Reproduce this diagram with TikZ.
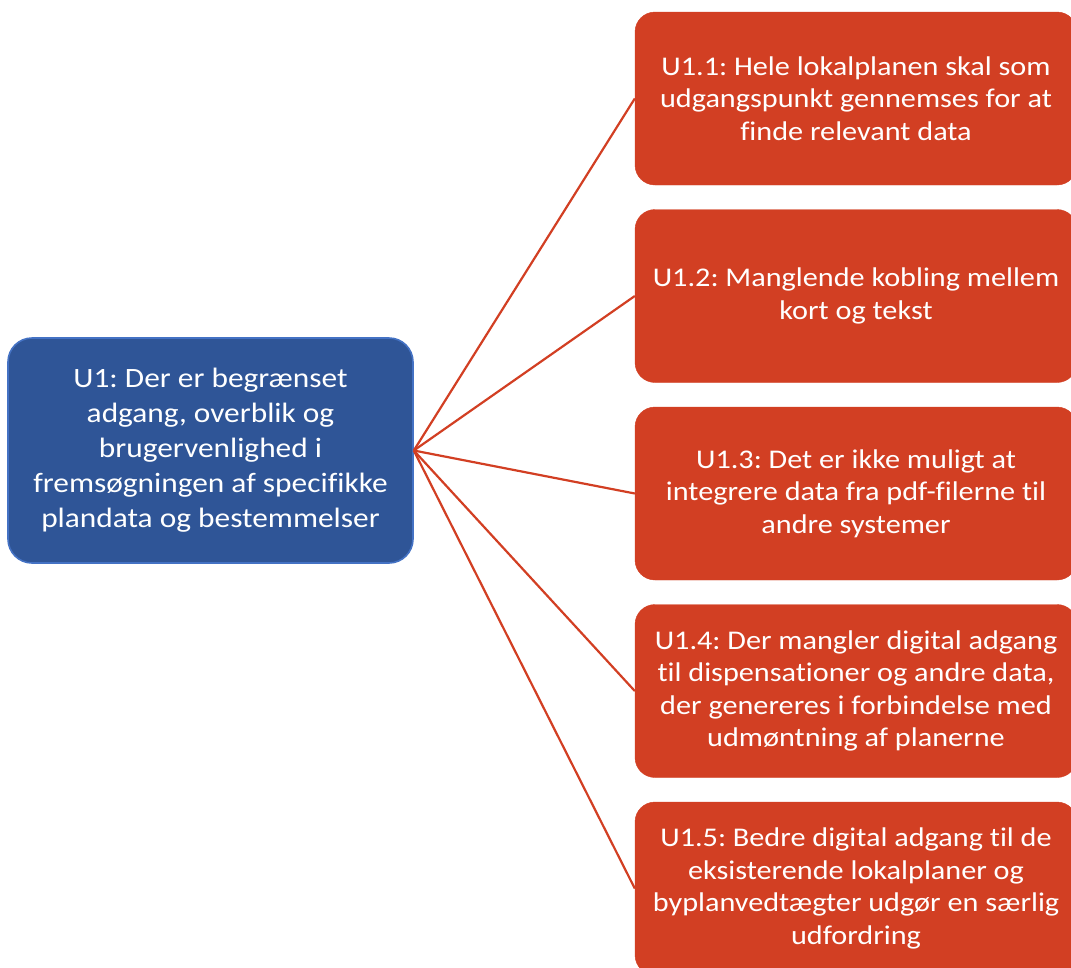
\documentclass[tikz,border=0pt]{standalone}
\usepackage{fontspec}
\setmainfont{Carlito}[FakeStretch=1.12,Ligatures=NoCommon]
\frenchspacing
\definecolor{udfblaa}{RGB}{47,85,151}
\definecolor{udfkant}{RGB}{68,114,196}
\definecolor{udfroed}{RGB}{210,63,35}

\begin{document}
\begin{tikzpicture}[x=1pt,y=-1pt,
    hoved/.style={draw=udfkant,line width=1.6pt,fill=udfblaa,rounded corners=24pt,
        minimum width=405pt,minimum height=225pt,text=white,align=center,
        font=\fontsize{28}{35}\selectfont,inner sep=0pt},
    under/.style={draw=udfroed,fill=udfroed,rounded corners=20pt,
        minimum width=442pt,minimum height=173pt,text=white,align=center,
        font=\fontsize{27}{32.5}\selectfont,inner sep=0pt},
    gren/.style={draw=udfroed,line width=2.2pt}]
    \useasboundingbox (0,0) rectangle (1071,967);
    \clip (0,0) rectangle (1071,967);
    \node[hoved] (u1) at (210.5,450.5) {U1: Der er begrænset\\adgang, overblik og\\brugervenlighed i\\fremsøgningen af specifikke\\plandata og bestemmelser};
    \node[under] (u11) at (856,98.5) {U1.1: Hele lokalplanen skal som\\udgangspunkt gennemses for at\\finde relevant data};
    \node[under] (u12) at (856,296) {U1.2: Manglende kobling mellem\\kort og tekst};
    \node[under] (u13) at (856,493.5) {U1.3: Det er ikke muligt at\\integrere data fra pdf-filerne til\\andre systemer};
    \node[under] (u14) at (856,691) {U1.4: Der mangler digital adgang\\til dispensationer og andre data,\\der genereres i forbindelse med\\udmøntning af planerne};
    \node[under] (u15) at (856,888.5) {U1.5: Bedre digital adgang til de\\eksisterende lokalplaner og\\byplanvedtægter udgør en særlig\\udfordring};
    % grene
    \foreach \n in {u11,u12,u13,u14,u15}
        \draw[gren] (u1.east) -- (\n.west);
\end{tikzpicture}
\end{document}
